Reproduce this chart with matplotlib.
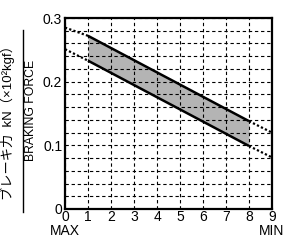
import matplotlib
matplotlib.use("Agg")
import matplotlib.pyplot as plt
from matplotlib.lines import Line2D

plt.rcParams['font.family'] = ['Liberation Sans', 'Noto Sans CJK JP', 'DejaVu Sans']

# braking force band (kN x10^2 kgf) vs adjuster position
x_solid = [1, 8]
upper_solid = [0.272, 0.138]
lower_solid = [0.233, 0.099]
x_left = [0, 1]
upper_left = [0.285, 0.272]
lower_left = [0.251, 0.233]
x_right = [8, 9]
upper_right = [0.138, 0.120]
lower_right = [0.099, 0.081]

xticks = list(range(10))
yticks = [0, 0.1, 0.2, 0.3]
ytick_labels = ["0", "0.1", "0.2", "0.3"]

fig = plt.figure(figsize=(2.86, 2.41), dpi=100)
ax = fig.add_axes([65 / 286, 1 - 209 / 241, (272 - 65) / 286, (209 - 18) / 241])

ax.fill_between(x_solid, lower_solid, upper_solid, color="#b4b4b4", lw=0)
ax.plot(x_solid, upper_solid, color="black", lw=1.8, solid_capstyle="butt")
ax.plot(x_solid, lower_solid, color="black", lw=1.8, solid_capstyle="butt")
for xs, ys in [(x_left, upper_left), (x_left, lower_left), (x_right, upper_right), (x_right, lower_right)]:
    ax.plot(xs, ys, color="black", lw=1.6, linestyle=(0, (1, 1)))

ax.set_xlim(0, 9)
ax.set_ylim(0, 0.3)
ax.set_xticks(xticks)
ax.set_yticks([i * 0.02 for i in range(16)], minor=True)
ax.set_yticks(yticks)
ax.set_yticklabels(ytick_labels)
ax.tick_params(which="both", length=0, labelsize=10, pad=2)
ax.tick_params(axis="x", pad=0.5)
ax.grid(True, which="both", color="black", linestyle=(0, (3, 2.5)), lw=0.8)
for s in ax.spines.values():
    s.set_linewidth(1.6)

fig.text(65 / 286, 1 - 231 / 241, "MAX", ha="center", va="center", fontsize=10)
fig.text(272 / 286, 1 - 231 / 241, "MIN", ha="center", va="center", fontsize=10)

# fraction-style y label
fig.text(8 / 286, 1 - 120 / 241, "ブレーキ力  kN（×10²kgf）", rotation=90,
         ha="center", va="center", fontsize=9.5)
fig.text(31 / 286, 1 - 110 / 241, "BRAKING FORCE", rotation=90,
         ha="center", va="center", fontsize=8.8)
fig.add_artist(Line2D([23 / 286, 23 / 286], [1 - 212 / 241, 1 - 30 / 241],
                      color="black", lw=1, transform=fig.transFigure))

fig.savefig("out.png", dpi=100)
